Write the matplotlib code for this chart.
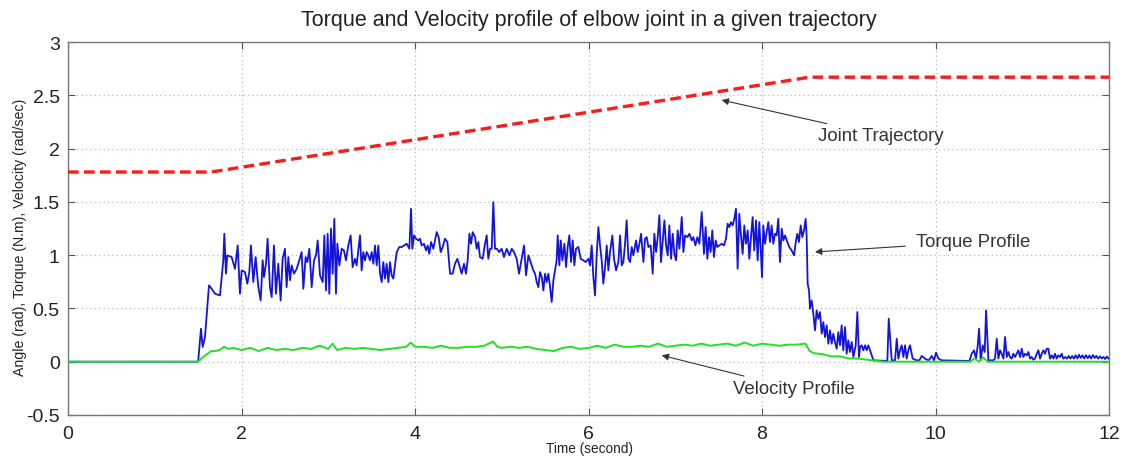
import matplotlib
matplotlib.use("Agg")
import matplotlib.pyplot as plt
import numpy as np

plt.rcParams['font.family'] = ['Liberation Sans', 'DejaVu Sans']

# ---------------- data ----------------
traj_t = [0.0, 1.65, 8.55, 12.0]
traj_v = [1.78, 1.78, 2.67, 2.67]

torque_t = [0.0, 1.50, 1.533, 1.552, 1.579, 1.625, 1.656, 1.694, 1.752, 1.790, 1.802, 1.821, 1.836,
            1.886, 1.925, 1.956, 1.982, 2.002, 2.040, 2.067, 2.090, 2.109, 2.136, 2.163, 2.194,
            2.221, 2.244, 2.259, 2.282, 2.301, 2.328, 2.348, 2.374, 2.397, 2.424, 2.451, 2.474,
            2.501, 2.520, 2.540, 2.559, 2.578, 2.605, 2.636, 2.666, 2.693, 2.713, 2.739, 2.759,
            2.782, 2.809, 2.836, 2.859, 2.878, 2.905, 2.936, 2.955, 2.974, 2.993, 3.012, 3.032,
            3.051, 3.070, 3.089, 3.105, 3.128, 3.155, 3.181, 3.204, 3.231, 3.258, 3.281, 3.308,
            3.327, 3.366, 3.385, 3.404, 3.424, 3.443, 3.462, 3.481, 3.501, 3.520, 3.539, 3.558,
            3.577, 3.597, 3.616, 3.635, 3.654, 3.673, 3.693, 3.712, 3.731, 3.750, 3.770, 3.789,
            3.819, 3.846, 3.873, 3.904, 3.935, 3.954, 3.969, 3.989, 4.012, 4.039, 4.058, 4.077,
            4.104, 4.127, 4.146, 4.165, 4.185, 4.211, 4.231, 4.250, 4.273, 4.296, 4.319, 4.346,
            4.373, 4.404, 4.434, 4.461, 4.488, 4.511, 4.538, 4.565, 4.588, 4.607, 4.627, 4.646,
            4.665, 4.692, 4.711, 4.730, 4.749, 4.780, 4.807, 4.826, 4.845, 4.865, 4.884, 4.903,
            4.922, 4.942, 4.972, 4.999, 5.026, 5.057, 5.088, 5.115, 5.141, 5.172, 5.199, 5.230,
            5.257, 5.280, 5.307, 5.364, 5.384, 5.403, 5.422, 5.441, 5.461, 5.480, 5.499, 5.518,
            5.537, 5.557, 5.576, 5.595, 5.614, 5.633, 5.645, 5.664, 5.680, 5.699, 5.722, 5.741,
            5.760, 5.779, 5.799, 5.818, 5.837, 5.856, 5.883, 5.910, 5.941, 5.968, 5.999, 6.018,
            6.037, 6.056, 6.075, 6.095, 6.114, 6.133, 6.152, 6.171, 6.191, 6.210, 6.229, 6.248,
            6.275, 6.294, 6.318, 6.344, 6.364, 6.383, 6.402, 6.421, 6.440, 6.460, 6.479, 6.498,
            6.517, 6.548, 6.567, 6.587, 6.606, 6.633, 6.652, 6.671, 6.690, 6.717, 6.740, 6.759,
            6.779, 6.798, 6.817, 6.836, 6.856, 6.875, 6.894, 6.913, 6.932, 6.952, 6.971, 6.990,
            7.009, 7.028, 7.048, 7.075, 7.094, 7.113, 7.140, 7.163, 7.190, 7.209, 7.232, 7.255,
            7.278, 7.305, 7.331, 7.350, 7.370, 7.389, 7.408, 7.427, 7.446, 7.466, 7.485, 7.508,
            7.535, 7.562, 7.585, 7.604, 7.623, 7.642, 7.662, 7.681, 7.700, 7.719, 7.738, 7.758,
            7.777, 7.796, 7.815, 7.835, 7.854, 7.873, 7.892, 7.911, 7.931, 7.950, 7.969, 7.988,
            8.000, 8.015, 8.034, 8.054, 8.073, 8.092, 8.111, 8.130, 8.150, 8.169, 8.188, 8.207,
            8.227, 8.246, 8.265, 8.292, 8.315, 8.342, 8.369, 8.392, 8.407, 8.426, 8.446, 8.465,
            8.484, 8.503, 8.515, 8.526, 8.542, 8.553, 8.572, 8.592, 8.611, 8.630, 8.649, 8.668,
            8.688, 8.707, 8.726, 8.745, 8.765, 8.784, 8.803, 8.822, 8.841, 8.861, 8.880, 8.899,
            8.918, 8.937, 8.957, 8.976, 8.995, 9.014, 9.034, 9.053, 9.080, 9.099, 9.118,
            9.130, 9.149, 9.168, 9.188, 9.207, 9.226, 9.245, 9.265, 9.284, 9.430, 9.445, 9.461,
            9.495, 9.534, 9.553, 9.572, 9.591, 9.610, 9.630, 9.649, 9.668, 9.687, 9.706, 9.737,
            9.783, 9.814, 9.841, 9.879, 9.918, 9.937, 9.956, 9.983, 10.006, 10.033, 10.072, 10.367,
            10.391, 10.417, 10.444, 10.467, 10.487, 10.502, 10.521, 10.544, 10.567, 10.583, 10.610,
            10.648, 10.667, 10.686, 10.706, 10.725, 10.744, 10.763, 10.783, 10.802, 10.821, 10.840,
            10.859, 10.879, 10.898, 10.917, 10.936, 10.955, 10.975, 10.994, 11.013, 11.032, 11.052,
            11.071, 11.090, 11.109, 11.128, 11.147, 11.167, 11.186, 11.205, 11.224, 11.244, 11.263,
            11.282, 11.301, 11.320, 11.340, 11.359, 11.378, 11.397, 11.417, 11.436, 11.455, 11.474,
            11.493, 11.513, 11.535, 11.555, 11.575, 11.595, 11.615, 11.635, 11.655, 11.675, 11.695,
            11.715, 11.735, 11.755, 11.775, 11.795, 11.815, 11.835, 11.855, 11.875, 11.895, 11.915,
            11.935, 11.955, 11.975, 11.995]

torque_v = [0.0, 0.0, 0.310, 0.138, 0.231, 0.716, 0.685, 0.638, 0.622, 0.951, 1.201, 0.826, 0.998,
            0.982, 0.872, 1.091, 0.638, 0.857, 0.841, 0.732, 0.841, 1.091, 0.747, 0.982, 0.700,
            0.575, 0.951, 0.794, 0.919, 1.154, 0.700, 0.607, 1.091, 0.638, 0.919, 0.575, 0.966,
            1.060, 0.700, 0.982, 0.763, 0.904, 0.826, 0.872, 0.951, 1.029, 0.685, 0.982, 0.935,
            1.060, 0.700, 0.951, 0.998, 1.138, 0.810, 0.747, 1.185, 0.669, 1.201, 0.638, 1.248,
            0.826, 1.341, 0.638, 1.107, 0.904, 1.060, 1.044, 0.951, 1.091, 1.185, 0.888, 0.966,
            0.904, 1.185, 0.857, 1.029, 0.951, 1.029, 0.998, 0.951, 1.029, 0.919, 1.091, 0.904,
            1.091, 0.826, 0.747, 0.935, 0.779, 0.919, 0.747, 0.935, 0.810, 0.779, 0.904, 1.029,
            1.076, 1.076, 1.091, 1.107, 1.060, 1.435, 1.060, 1.185, 1.154, 1.138, 1.154, 1.091,
            1.107, 1.044, 1.091, 1.013, 1.123, 1.060, 1.138, 1.216, 1.169, 1.029, 1.076, 1.154,
            1.123, 0.826, 0.826, 0.919, 0.966, 0.904, 0.826, 0.919, 0.826, 0.951, 1.201, 1.107,
            1.216, 1.169, 1.060, 1.123, 0.982, 0.966, 1.107, 1.185, 0.966, 1.060, 1.060, 1.498,
            1.060, 1.060, 1.029, 1.060, 0.982, 1.060, 0.998, 1.060, 1.029, 0.966, 0.826, 0.966,
            1.091, 0.810, 0.998, 0.857, 0.826, 0.747, 0.700, 0.841, 0.794, 0.669, 0.826, 0.747,
            0.826, 0.700, 0.560, 0.763, 0.857, 0.951, 1.185, 0.904, 1.138, 0.951, 1.107, 0.888,
            1.076, 1.185, 0.935, 1.138, 0.904, 1.060, 1.076, 0.966, 0.951, 0.935, 0.966, 0.904,
            1.091, 0.794, 0.622, 1.013, 1.263, 1.091, 0.951, 0.732, 0.888, 1.091, 0.857, 1.029,
            1.185, 0.966, 0.857, 0.935, 1.185, 0.904, 0.935, 1.107, 1.326, 0.966, 0.935, 1.076,
            0.998, 1.138, 1.029, 1.107, 1.201, 0.935, 1.154, 1.169, 1.076, 1.091, 0.826, 1.201,
            1.029, 1.169, 1.373, 0.935, 1.138, 1.326, 1.091, 0.998, 1.279, 0.966, 1.201, 1.013,
            0.951, 1.232, 1.060, 1.357, 1.029, 1.185, 1.169, 1.201, 1.138, 1.169, 1.091, 1.169,
            1.107, 1.404, 1.013, 1.263, 0.966, 1.169, 1.029, 1.232, 0.982, 1.138, 1.076, 1.091,
            1.107, 1.091, 1.154, 1.295, 1.263, 1.310, 1.279, 1.341, 1.435, 0.872, 1.388, 1.185,
            1.013, 1.279, 1.107, 1.232, 0.966, 1.169, 1.357, 1.044, 1.326, 0.951, 1.310, 1.013,
            0.794, 1.279, 1.107, 1.216, 1.310, 1.123, 1.279, 1.107, 1.201, 1.185, 1.341, 0.935,
            1.248, 1.138, 1.185, 1.123, 1.076, 1.044, 0.998, 1.138, 1.201, 1.123, 1.279, 1.169,
            1.232, 1.341, 1.169, 0.732, 0.669, 0.497, 0.575, 0.450, 0.294, 0.482, 0.403, 0.466,
            0.263, 0.372, 0.231, 0.341, 0.169, 0.294, 0.169, 0.263, 0.185, 0.122, 0.278, 0.153,
            0.341, 0.106, 0.325, 0.075, 0.200, 0.091, 0.185, 0.044, 0.153, 0.466, 0.044, 0.138,
            0.154, 0.107, 0.154, 0.107, 0.154, 0.107, 0.060, 0.013, 0.007, 0.007, 0.404, 0.013,
            0.013, 0.216, 0.029, 0.107, 0.154, 0.044, 0.154, 0.029, 0.107, 0.154, 0.029, 0.013,
            0.013, 0.054, 0.029, 0.013, 0.029, 0.054, 0.013, 0.085, 0.029, 0.013, 0.007, 0.007,
            0.075, 0.107, 0.029, 0.154, 0.310, 0.013, 0.154, 0.091, 0.482, 0.013, 0.013,
            0.013, 0.029, 0.216, 0.029, 0.107, 0.075, 0.029, 0.232, 0.044, 0.091, 0.044,
            0.029, 0.075, 0.044, 0.075, 0.107, 0.044, 0.122, 0.044, 0.075, 0.060, 0.091,
            0.029, 0.044, 0.019, 0.029, 0.075, 0.107, 0.029, 0.075, 0.107, 0.075, 0.122,
            0.122, 0.029, 0.060, 0.029, 0.075, 0.029, 0.060, 0.044, 0.075, 0.029, 0.044,
            0.029, 0.054, 0.029, 0.054, 0.029, 0.060, 0.030, 0.065, 0.035, 0.060, 0.030,
            0.062, 0.032, 0.058, 0.030, 0.062, 0.035, 0.055, 0.028, 0.050, 0.030, 0.045,
            0.025, 0.048, 0.030]

vel_t = [0.0, 1.50, 1.55, 1.60, 1.65, 1.70, 1.75, 1.80, 1.85, 1.90, 2.0, 2.1, 2.2, 2.3, 2.4, 2.5,
         2.6, 2.7, 2.8, 2.9, 3.0, 3.05, 3.1, 3.2, 3.3, 3.4, 3.5, 3.6, 3.7, 3.8, 3.9, 3.95, 4.0,
         4.1, 4.2, 4.3, 4.4, 4.5, 4.6, 4.7, 4.8, 4.9, 4.95, 5.0, 5.1, 5.2, 5.3, 5.4, 5.5, 5.6,
         5.7, 5.8, 5.9, 6.0, 6.1, 6.2, 6.3, 6.4, 6.5, 6.6, 6.7, 6.8, 6.9, 7.0, 7.1, 7.2, 7.3,
         7.4, 7.5, 7.6, 7.7, 7.8, 7.9, 8.0, 8.1, 8.2, 8.3, 8.4, 8.5, 8.55, 8.6, 8.7, 8.8, 8.9,
         9.0, 9.1, 9.2, 9.3, 9.4, 10.4, 10.45, 10.5, 10.55, 10.6, 12.0]
vel_v = [0.0, 0.0, 0.04, 0.07, 0.10, 0.10, 0.11, 0.14, 0.12, 0.13, 0.11, 0.13, 0.10, 0.13, 0.11,
         0.12, 0.11, 0.13, 0.12, 0.15, 0.12, 0.17, 0.11, 0.13, 0.12, 0.13, 0.12, 0.11, 0.12, 0.13,
         0.14, 0.18, 0.14, 0.14, 0.13, 0.15, 0.13, 0.13, 0.14, 0.14, 0.15, 0.19, 0.14, 0.13, 0.14,
         0.13, 0.14, 0.12, 0.11, 0.10, 0.13, 0.14, 0.12, 0.13, 0.15, 0.13, 0.16, 0.14, 0.14, 0.15,
         0.14, 0.17, 0.14, 0.15, 0.16, 0.15, 0.17, 0.15, 0.16, 0.17, 0.15, 0.18, 0.15, 0.17, 0.16,
         0.15, 0.16, 0.16, 0.17, 0.10, 0.08, 0.07, 0.05, 0.05, 0.03, 0.03, 0.02, 0.01, 0.0, 0.0,
         0.03, 0.0, 0.04, 0.0, 0.0]

title = "Torque and Velocity profile of elbow joint in a given trajectory"
xlabel = "Time (second)"
ylabel = "Angle (rad), Torque (N.m), Velocity (rad/sec)"
xticks = [0, 2, 4, 6, 8, 10, 12]
yticks = [-0.5, 0, 0.5, 1, 1.5, 2, 2.5, 3]
ytick_labels = ["-0.5", "0", "0.5", "1", "1.5", "2", "2.5", "3"]

# ---------------- figure ----------------
fig = plt.figure(figsize=(11.22, 4.60), dpi=100)
ax = fig.add_axes([68/1122, 1 - 416/460, (1109 - 68)/1122, (416 - 43)/460])

ax.plot(torque_t, torque_v, color='#1414d8', lw=1.3, zorder=3)
ax.plot(vel_t, vel_v, color='#22e022', lw=1.4, zorder=4)
ax.plot(traj_t, traj_v, color='#ff1a1a', lw=2.4, ls=(0, (3.2, 1.6)), zorder=5)

ax.set_xlim(0, 12)
ax.set_ylim(-0.5, 3)
ax.set_xticks(xticks)
ax.set_xticklabels([str(x) for x in xticks])
ax.set_yticks(yticks)
ax.set_yticklabels(ytick_labels)
ax.tick_params(direction='in', length=5, top=True, right=True, labelsize=14,
               color='#555555', labelcolor='#222222')
ax.tick_params(axis='x', pad=7)
ax.tick_params(axis='y', pad=6)
ax.grid(True, color='#b8b8b8', ls=(0, (1, 2.5)), lw=0.9)
for s in ax.spines.values():
    s.set_color('#777777')
    s.set_linewidth(1.0)

ax.set_title(title, fontsize=15.5, color='#222222', pad=12)
ax.set_xlabel(xlabel, fontsize=9.8, color='#222222')
ax.set_ylabel(ylabel, fontsize=10.2, color='#222222')
ax.xaxis.set_label_coords(0.501, -0.071)
ax.yaxis.set_label_coords(-0.039, 0.48)

arrow = dict(arrowstyle='-|>', color='#333333', lw=0.8, mutation_scale=10)
ax.annotate("Joint Trajectory", xy=(7.535, 2.455), xytext=(8.65, 2.12),
            fontsize=13.4, color='#333333', va='center', ha='left',
            arrowprops=dict(arrow, shrinkA=3, shrinkB=0))
ax.annotate("Torque Profile", xy=(8.611, 1.03), xytext=(9.78, 1.125),
            fontsize=13.4, color='#333333', va='center', ha='left',
            arrowprops=dict(arrow, shrinkA=6, shrinkB=0))
ax.annotate("Velocity Profile", xy=(6.844, 0.06), xytext=(7.67, -0.253),
            fontsize=13.4, color='#333333', va='center', ha='left',
            arrowprops=dict(arrow, shrinkA=4, shrinkB=0))

fig.savefig("out.png", dpi=100)
